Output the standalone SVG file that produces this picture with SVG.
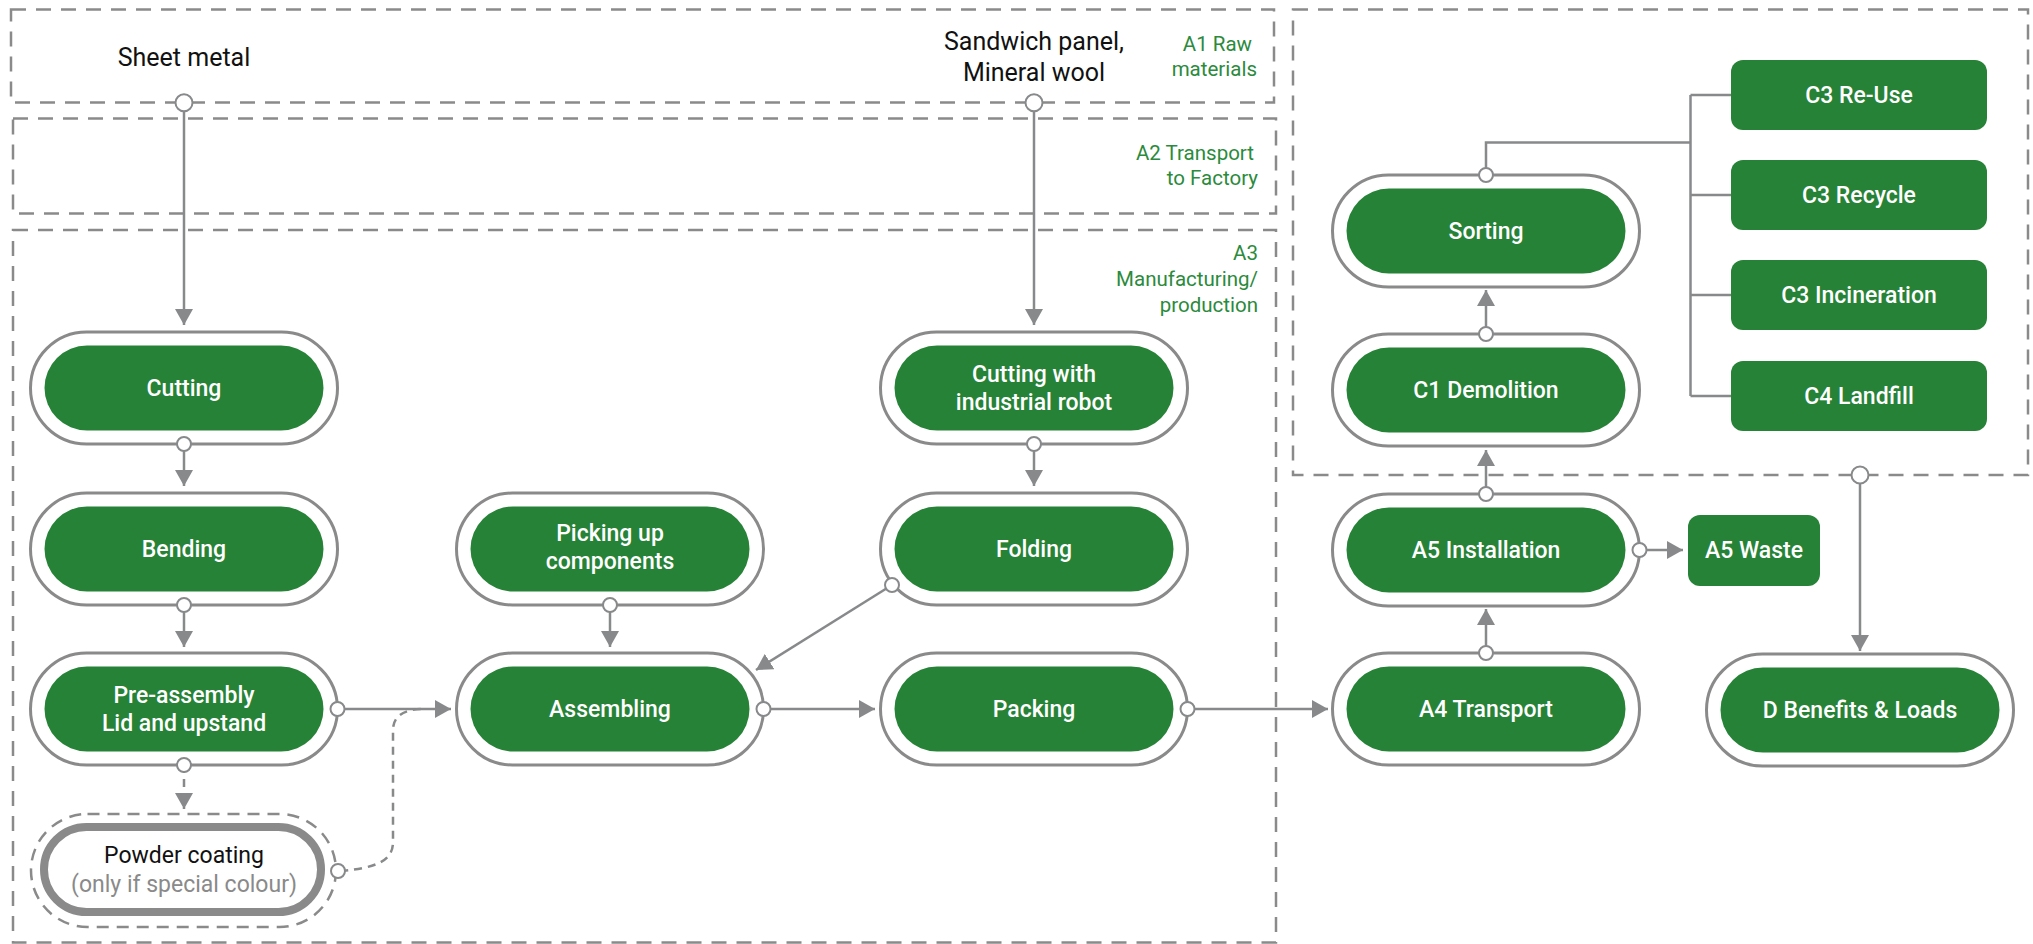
<svg xmlns="http://www.w3.org/2000/svg" width="2033" height="944" viewBox="0 0 2033 944">
<style>
.box{fill:none;stroke:#8a8a8a;stroke-width:2.5;stroke-dasharray:15 10}
.outer{fill:#fff;stroke:#8a8a8a;stroke-width:3}
.inner{fill:#268236}
.nt{font-family:Roboto,"Liberation Sans",sans-serif;font-size:23px;font-weight:500;fill:#fff;text-anchor:middle}
.lbl{font-family:Roboto,"Liberation Sans",sans-serif;font-size:20.5px;fill:#2b8a3c;text-anchor:end}
.src{font-family:Roboto,"Liberation Sans",sans-serif;font-size:25px;fill:#111;text-anchor:middle}
.ln{fill:none;stroke:#87898b;stroke-width:2.5}
.dash{stroke-dasharray:8 6}
.dot{fill:#fff;stroke:#87898b;stroke-width:2}
</style>
<defs>
<marker id="ah" markerUnits="userSpaceOnUse" markerWidth="16" markerHeight="18" refX="16" refY="9" orient="auto">
<path d="M0,0 L16,9 L0,18 Z" fill="#87898b"/>
</marker>
</defs>
<rect width="2033" height="944" fill="#fff"/>

<g id="stages">
<rect class="box" x="11" y="9.5" width="1263" height="93"/>
<rect class="box" x="13" y="118.5" width="1263" height="95"/>
<rect class="box" x="13" y="230" width="1263" height="712.5"/>
<rect class="box" x="1293" y="9.5" width="735" height="465.5"/>
<text class="lbl" x="1252" y="51">A1 Raw</text>
<text class="lbl" x="1257" y="76">materials</text>
<text class="lbl" x="1254" y="160">A2 Transport</text>
<text class="lbl" x="1258" y="185">to Factory</text>
<text class="lbl" x="1258" y="260">A3</text>
<text class="lbl" x="1258" y="286">Manufacturing/</text>
<text class="lbl" x="1258" y="312">production</text>
</g>

<g id="src-sheet"><text class="src" x="184" y="66">Sheet metal</text></g>
<g id="src-sandwich"><text class="src" x="1034" y="50">Sandwich panel,</text><text class="src" x="1034" y="81">Mineral wool</text></g>

<g id="cutting"><rect class="outer" x="30.5" y="332" width="307" height="112" rx="56"/><rect class="inner" x="44.5" y="345.5" width="279" height="85" rx="42.5"/><text class="nt" x="184" y="396">Cutting</text></g>
<g id="bending"><rect class="outer" x="30.5" y="493" width="307" height="112" rx="56"/><rect class="inner" x="44.5" y="506.5" width="279" height="85" rx="42.5"/><text class="nt" x="184" y="557">Bending</text></g>
<g id="preassembly"><rect class="outer" x="30.5" y="653" width="307" height="112" rx="56"/><rect class="inner" x="44.5" y="666.5" width="279" height="85" rx="42.5"/><text class="nt" x="184" y="703">Pre-assembly</text><text class="nt" x="184" y="731">Lid and upstand</text></g>
<g id="powder"><rect x="31" y="814" width="305" height="113" rx="56.5" fill="#fff" stroke="#8a8a8a" stroke-width="2.5" stroke-dasharray="12 8"/><rect x="44" y="827" width="277" height="85" rx="42.5" fill="#fff" stroke="#8a8a8a" stroke-width="8"/><text x="184" y="863" font-family="Roboto,'Liberation Sans',sans-serif" font-size="23" fill="#111" text-anchor="middle">Powder coating</text><text x="184" y="892" font-family="Roboto,'Liberation Sans',sans-serif" font-size="23" fill="#8a8a8a" text-anchor="middle">(only if special colour)</text></g>
<g id="picking"><rect class="outer" x="456.5" y="493" width="307" height="112" rx="56"/><rect class="inner" x="470.5" y="506.5" width="279" height="85" rx="42.5"/><text class="nt" x="610" y="541">Picking up</text><text class="nt" x="610" y="569">components</text></g>
<g id="assembling"><rect class="outer" x="456.5" y="653" width="307" height="112" rx="56"/><rect class="inner" x="470.5" y="666.5" width="279" height="85" rx="42.5"/><text class="nt" x="610" y="717">Assembling</text></g>
<g id="cutting-robot"><rect class="outer" x="880.5" y="332" width="307" height="112" rx="56"/><rect class="inner" x="894.5" y="345.5" width="279" height="85" rx="42.5"/><text class="nt" x="1034" y="382">Cutting with</text><text class="nt" x="1034" y="410">industrial robot</text></g>
<g id="folding"><rect class="outer" x="880.5" y="493" width="307" height="112" rx="56"/><rect class="inner" x="894.5" y="506.5" width="279" height="85" rx="42.5"/><text class="nt" x="1034" y="557">Folding</text></g>
<g id="packing"><rect class="outer" x="880.5" y="653" width="307" height="112" rx="56"/><rect class="inner" x="894.5" y="666.5" width="279" height="85" rx="42.5"/><text class="nt" x="1034" y="717">Packing</text></g>
<g id="a4"><rect class="outer" x="1332.5" y="653" width="307" height="112" rx="56"/><rect class="inner" x="1346.5" y="666.5" width="279" height="85" rx="42.5"/><text class="nt" x="1486" y="717">A4 Transport</text></g>
<g id="a5"><rect class="outer" x="1332.5" y="494" width="307" height="112" rx="56"/><rect class="inner" x="1346.5" y="507.5" width="279" height="85" rx="42.5"/><text class="nt" x="1486" y="558">A5 Installation</text></g>
<g id="a5waste"><rect class="inner" x="1688" y="515" width="132" height="71" rx="12"/><text class="nt" x="1754" y="558">A5 Waste</text></g>
<g id="c1"><rect class="outer" x="1332.5" y="334" width="307" height="112" rx="56"/><rect class="inner" x="1346.5" y="347.5" width="279" height="85" rx="42.5"/><text class="nt" x="1486" y="398">C1 Demolition</text></g>
<g id="sorting"><rect class="outer" x="1332.5" y="175" width="307" height="112" rx="56"/><rect class="inner" x="1346.5" y="188.5" width="279" height="85" rx="42.5"/><text class="nt" x="1486" y="239">Sorting</text></g>
<g id="c3reuse"><rect class="inner" x="1731" y="60" width="256" height="70" rx="12"/><text class="nt" x="1859" y="103">C3 Re-Use</text></g>
<g id="c3recycle"><rect class="inner" x="1731" y="160" width="256" height="70" rx="12"/><text class="nt" x="1859" y="203">C3 Recycle</text></g>
<g id="c3incineration"><rect class="inner" x="1731" y="260" width="256" height="70" rx="12"/><text class="nt" x="1859" y="303">C3 Incineration</text></g>
<g id="c4landfill"><rect class="inner" x="1731" y="361" width="256" height="70" rx="12"/><text class="nt" x="1859" y="404">C4 Landfill</text></g>
<g id="d"><rect class="outer" x="1706.5" y="654" width="307" height="112" rx="56"/><rect class="inner" x="1720.5" y="667.5" width="279" height="85" rx="42.5"/><text class="nt" x="1860" y="718">D Benefits &amp; Loads</text></g>

<g id="connectors">
<path class="ln" d="M184,103 V325" marker-end="url(#ah)"/>
<path class="ln" d="M184,444 V486" marker-end="url(#ah)"/>
<path class="ln" d="M184,605 V647" marker-end="url(#ah)"/>
<path class="ln" d="M337.5,709 H451" marker-end="url(#ah)"/>
<path class="ln dash" d="M184,765 V809" marker-end="url(#ah)"/>
<path class="ln dash" d="M340,871 C378,868 393,860 393,842 V730 C393,716 404,709 424,709"/>
<path class="ln" d="M610,605 V647" marker-end="url(#ah)"/>
<path class="ln" d="M892,585 L756,670" marker-end="url(#ah)"/>
<path class="ln" d="M763.5,709 H875" marker-end="url(#ah)"/>
<path class="ln" d="M1034,103 V325" marker-end="url(#ah)"/>
<path class="ln" d="M1034,444 V486" marker-end="url(#ah)"/>
<path class="ln" d="M1187.5,709 H1328" marker-end="url(#ah)"/>
<path class="ln" d="M1486,653 V609" marker-end="url(#ah)"/>
<path class="ln" d="M1486,494 V450" marker-end="url(#ah)"/>
<path class="ln" d="M1486,334 V290" marker-end="url(#ah)"/>
<path class="ln" d="M1639.5,550 H1683" marker-end="url(#ah)"/>
<path class="ln" d="M1486,175 V142.5 H1690.5 M1690.5,95 V396 M1690.5,95 H1731 M1690.5,195 H1731 M1690.5,295 H1731 M1690.5,396 H1731"/>
<path class="ln" d="M1860,475 V651" marker-end="url(#ah)"/>
<circle class="dot" cx="184" cy="102.7" r="8.5"/>
<circle class="dot" cx="1034" cy="102.7" r="8.5"/>
<circle class="dot" cx="1860" cy="475" r="8.5"/>
<circle class="dot" cx="184" cy="444" r="7"/>
<circle class="dot" cx="184" cy="605" r="7"/>
<circle class="dot" cx="337.5" cy="709" r="7"/>
<circle class="dot" cx="184" cy="765" r="7"/>
<circle class="dot" cx="338" cy="871" r="7"/>
<circle class="dot" cx="610" cy="605" r="7"/>
<circle class="dot" cx="892" cy="585" r="7"/>
<circle class="dot" cx="763.5" cy="709" r="7"/>
<circle class="dot" cx="1034" cy="444" r="7"/>
<circle class="dot" cx="1187.5" cy="709" r="7"/>
<circle class="dot" cx="1486" cy="653" r="7"/>
<circle class="dot" cx="1486" cy="494" r="7"/>
<circle class="dot" cx="1639.5" cy="550" r="7"/>
<circle class="dot" cx="1486" cy="334" r="7"/>
<circle class="dot" cx="1486" cy="175" r="7"/>
</g>
</svg>
